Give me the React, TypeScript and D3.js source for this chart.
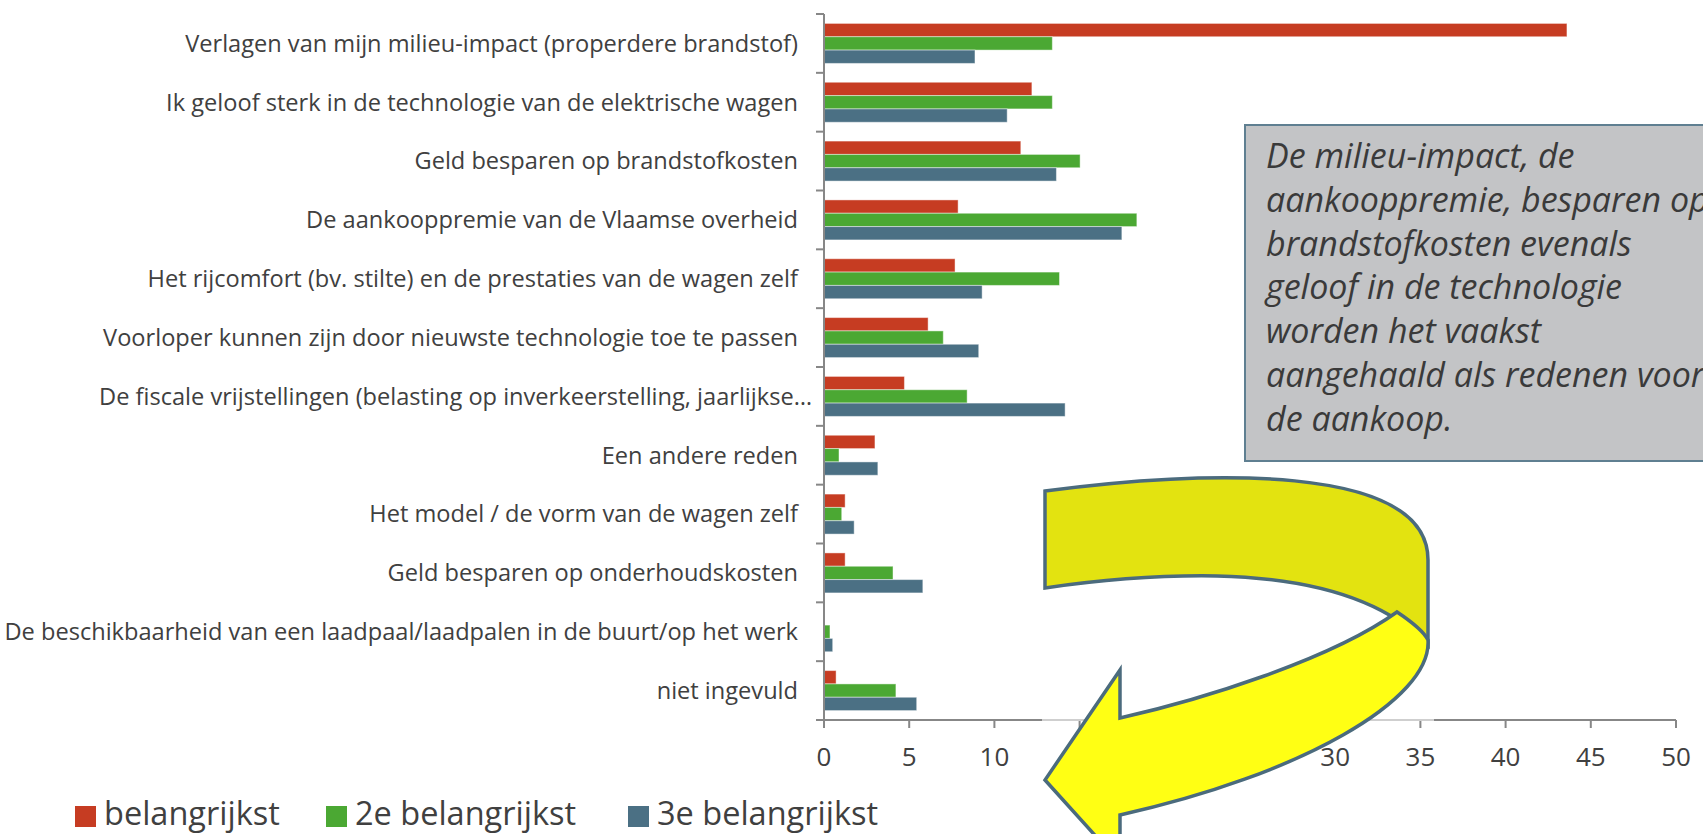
import React from "react";
import * as d3 from "d3";

const categories = [
  "Verlagen van mijn milieu-impact (properdere brandstof)",
  "Ik geloof sterk in de technologie van de elektrische wagen",
  "Geld besparen op brandstofkosten",
  "De aankooppremie van de Vlaamse overheid",
  "Het rijcomfort (bv. stilte) en de prestaties van de wagen zelf",
  "Voorloper kunnen zijn door nieuwste technologie toe te passen",
  "De fiscale vrijstellingen (belasting op inverkeerstelling, jaarlijkse…",
  "Een andere reden",
  "Het model / de vorm van de wagen zelf",
  "Geld besparen op onderhoudskosten",
  "De beschikbaarheid van een laadpaal/laadpalen in de buurt/op het werk",
  "niet ingevuld",
];

const seriesNames = ["belangrijkst", "2e belangrijkst", "3e belangrijkst"];
const belangrijkst = [43.6, 12.2, 11.55, 7.87, 7.69, 6.11, 4.72, 2.99, 1.24, 1.24, 0, 0.71];
const tweedeBelangrijkst = [13.4, 13.4, 15.03, 18.36, 13.82, 7.0, 8.4, 0.88, 1.04, 4.05, 0.35, 4.22];
const derdeBelangrijkst = [8.86, 10.75, 13.64, 17.48, 9.28, 9.08, 14.15, 3.16, 1.77, 5.8, 0.51, 5.44];
const xTicks = [0, 5, 10, 15, 20, 25, 30, 35, 40, 45, 50];
const calloutLines = [
  "De milieu-impact, de",
  "aankooppremie, besparen op",
  "brandstofkosten evenals",
  "geloof in de technologie",
  "worden het vaakst",
  "aangehaald als redenen voor",
  "de aankoop.",
];

const colors = ["#C63C22", "#4BA833", "#4B7084"];
const seriesValues = [belangrijkst, tweedeBelangrijkst, derdeBelangrijkst];

export default function App() {
  const W = 1703;
  const H = 834;
  const x0 = 824;
  const x1 = 1676;
  const yTop = 14;
  const yBot = 720;
  const axisColor = "#878787";
  const textColor = "#404040";
  const font = "'Open Sans', sans-serif";

  const x = d3.scaleLinear().domain([0, 50]).range([x0, x1]);
  const y = d3
    .scaleBand<string>()
    .domain(categories)
    .range([yTop, yBot])
    .paddingInner(0.32)
    .paddingOuter(0.16);
  const ys = d3
    .scaleBand<string>()
    .domain(seriesNames)
    .range([0, y.bandwidth()])
    .padding(0);
  const step = y.step();

  const backBand =
    "M1045,491 C1200,470 1428,462 1428,560 L1428,645 C1380,595 1300,578 1217,576 C1160,575 1100,580 1045,588 Z";
  const frontBand =
    "M1428,640 C1432,700 1300,775 1120,815 L1120,863 L1045,780 L1120,670 L1120,718 C1200,700 1330,660 1397,612 C1412,622 1424,632 1428,640 Z";

  return (
    <svg
      width={W}
      height={H}
      style={{ position: "absolute", left: 0, top: 0, background: "#fff" }}
      fontFamily={font}
    >
      {/* bars */}
      {categories.map((c, i) => (
        <g key={c} transform={`translate(0,${y(c)})`}>
          {seriesNames.map((s, j) => {
            const v = seriesValues[j][i];
            if (v <= 0) return null;
            return (
              <rect
                key={s}
                x={x(0)}
                y={ys(s)}
                width={x(v) - x(0)}
                height={ys.bandwidth()}
                fill={colors[j]}
                stroke="rgba(255,255,255,0.45)"
                strokeWidth={1}
              />
            );
          })}
        </g>
      ))}

      {/* y axis */}
      <line x1={x0} x2={x0} y1={yTop} y2={yBot} stroke={axisColor} strokeWidth={2} />
      {d3.range(categories.length + 1).map((k) => (
        <line
          key={k}
          x1={x0 - 8}
          x2={x0}
          y1={yTop + k * step}
          y2={yTop + k * step}
          stroke={axisColor}
          strokeWidth={2}
        />
      ))}
      {/* category labels */}
      {categories.map((c, i) => (
        <text
          key={c}
          x={i === 6 ? 812 : 798}
          y={(y(c) as number) + y.bandwidth() / 2}
          dy="0.35em"
          textAnchor="end"
          fontSize={23.6}
          fill={textColor}
        >
          {c}
        </text>
      ))}

      {/* x axis */}
      <line x1={x0 - 8} x2={x1} y1={yBot} y2={yBot} stroke={axisColor} strokeWidth={2} />
      {xTicks.map((t) => (
        <g key={t}>
          <line x1={x(t)} x2={x(t)} y1={yBot} y2={yBot + 8} stroke={axisColor} strokeWidth={2} />
          <text x={x(t)} y={766} textAnchor="middle" fontSize={26} fill={textColor}>
            {t}
          </text>
        </g>
      ))}
      <line x1={1042} x2={1434} y1={yBot} y2={yBot} stroke="#CFCFCF" strokeWidth={2} />

      {/* legend */}
      {seriesNames.map((s, j) => {
        const lx = [75, 326, 628][j];
        return (
          <g key={s}>
            <rect x={lx} y={806} width={21} height={21} fill={colors[j]} />
            <text x={lx + 29} y={825} fontSize={32.5} fill={textColor}>
              {s}
            </text>
          </g>
        );
      })}

      {/* callout box */}
      <rect x={1245} y={125} width={480} height={336} fill="#C3C4C6" stroke="#5F7F91" strokeWidth={2} />
      {calloutLines.map((l, k) => (
        <text
          key={k}
          x={1266}
          y={168 + k * 43.8}
          fontSize={34}
          fontStyle="italic"
          fill="#3A3A3A"
        >
          {l}
        </text>
      ))}

      {/* curved arrow */}
      <path d={backBand} fill="#E3E310" stroke="#4B6B7D" strokeWidth={3.5} />
      <path d={frontBand} fill="#FFFF14" stroke="#4B6B7D" strokeWidth={3.5} />
    </svg>
  );
}
